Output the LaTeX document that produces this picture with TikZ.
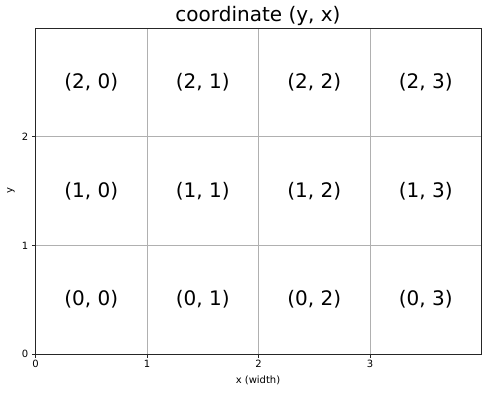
\documentclass[tikz,border=0pt]{standalone}
\usepackage{fontspec}
\setmainfont{DejaVu Sans}
\begin{document}
\begin{tikzpicture}[x=1pt,y=1pt,
  gridline/.style={draw={rgb,255:red,176;green,176;blue,176},line width=0.8pt},
  spine/.style={draw=black!85,line width=0.9pt},
  tickmark/.style={draw=black!85,line width=0.8pt},
  celltext/.style={font=\fontsize{20}{24}\selectfont},
  ticklabel/.style={font=\fontsize{10}{12}\selectfont,inner sep=0pt},
  axlabel/.style={font=\fontsize{10}{12}\selectfont,inner sep=0pt}]
\useasboundingbox (0,0) rectangle (488,392);
\fill[white] (0,0) rectangle (488,392);
\begin{scope}[shift={(35.5,38)},x=111.5pt,y=108.6pt]
  % grid
  \foreach \i in {1,2,3} \draw[gridline] (\i,0) -- (\i,3);
  \foreach \j in {1,2} \draw[gridline] (0,\j) -- (4,\j);
  % spines
  \draw[spine] (0,0) rectangle (4,3);
  % cell labels
  \foreach \r in {0,1,2} \foreach \c in {0,1,2,3}
    \node[celltext] (cell\r\c) at (\c+0.5,\r+0.5) {(\r, \c)};
  % x ticks
  \foreach \i in {0,1,2,3} {
    \coordinate (xt\i) at (\i,0);
    \draw[tickmark] (xt\i) -- ++(0,-3.5pt);
    \node[ticklabel,anchor=north] (xl\i) at ([yshift=-6pt]xt\i) {\i};
  }
  % y ticks
  \foreach \j in {0,1,2} {
    \coordinate (yt\j) at (0,\j);
    \draw[tickmark] (yt\j) -- ++(-3.5pt,0);
    \node[ticklabel,anchor=east] (yl\j) at ([xshift=-7pt]yt\j) {\j};
  }
\end{scope}
\node[font=\fontsize{20}{24}\selectfont] (title) at (258,376) {coordinate (y, x)};
\node[axlabel] (xlab) at (258,12) {x (width)};
\node[axlabel,rotate=90] (ylab) at (11,201.5) {y};
\end{tikzpicture}
\end{document}
